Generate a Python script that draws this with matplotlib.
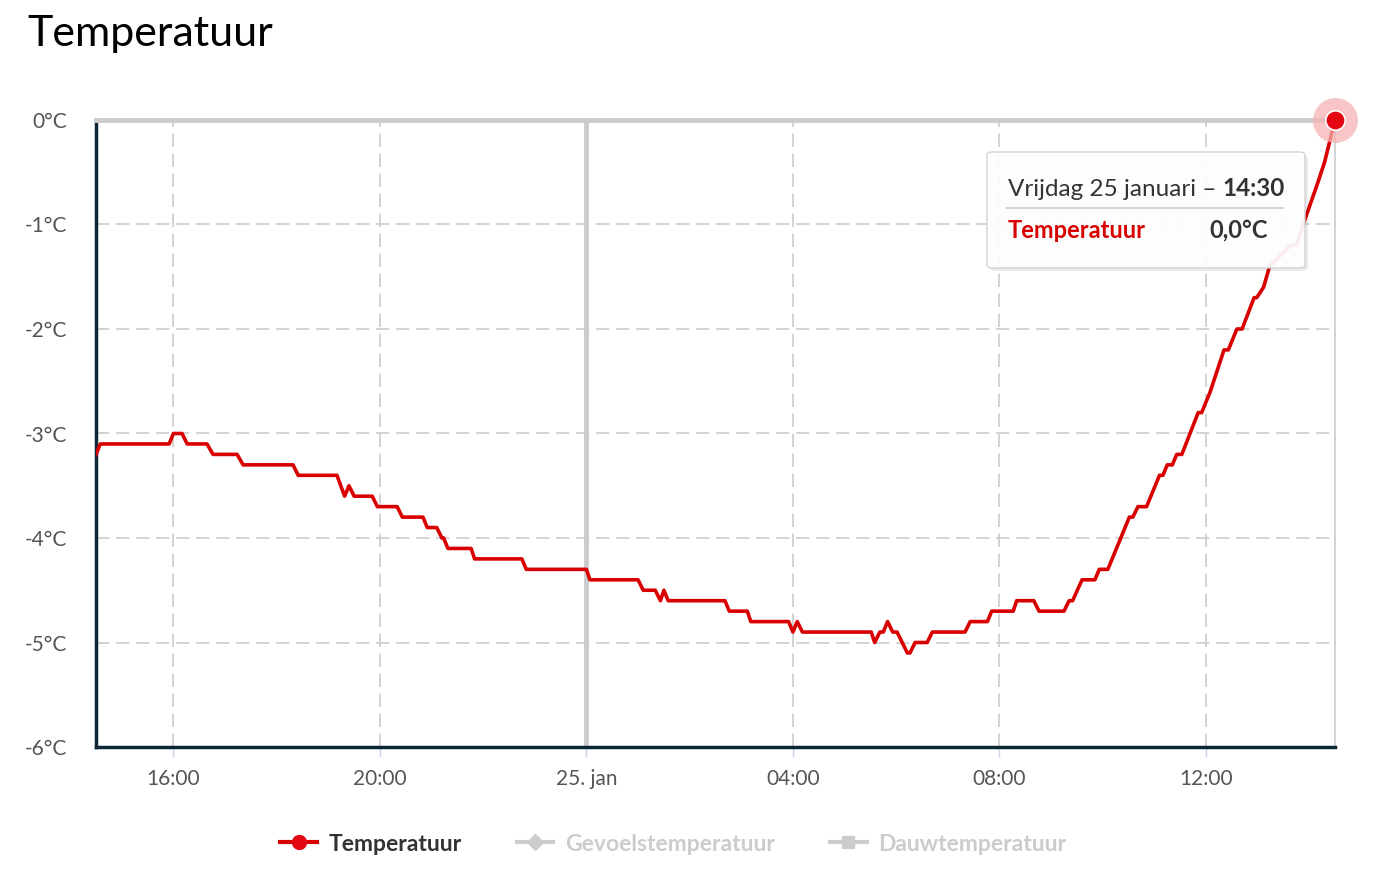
import matplotlib.pyplot as plt
from matplotlib.lines import Line2D
from matplotlib.patches import FancyBboxPatch
import numpy as np

plt.rcParams["font.family"] = ["Lato", "DejaVu Sans"]

# minutes after 24 jan 14:30 and temperature (degC)
minutes = [0, 5, 85, 90, 100, 106, 129, 136, 164, 171, 229, 235, 280, 289, 294,
           300, 321, 327, 350, 356, 380, 385, 396, 402, 404, 409, 436, 440, 495,
           500, 570, 574, 630, 636, 650, 656, 660, 665, 731, 736, 757, 761, 805,
           810, 815, 821, 901, 905, 911, 915, 920, 926, 931, 943, 946, 952, 966,
           972, 1010, 1016, 1036, 1041, 1066, 1070, 1090, 1096, 1125, 1131, 1135,
           1146, 1161, 1166, 1176, 1201, 1205, 1211, 1221, 1236, 1240, 1245, 1251,
           1256, 1262, 1281, 1285, 1295, 1303, 1311, 1316, 1326, 1332, 1346, 1349,
           1357, 1364, 1388, 1395, 1403, 1420, 1428, 1440]
temps = [-3.2, -3.1, -3.1, -3.0, -3.0, -3.1, -3.1, -3.2, -3.2, -3.3, -3.3, -3.4,
         -3.4, -3.6, -3.5, -3.6, -3.6, -3.7, -3.7, -3.8, -3.8, -3.9, -3.9, -4.0,
         -4.0, -4.1, -4.1, -4.2, -4.2, -4.3, -4.3, -4.4, -4.4, -4.5, -4.5, -4.6,
         -4.5, -4.6, -4.6, -4.7, -4.7, -4.8, -4.8, -4.9, -4.8, -4.9, -4.9, -5.0,
         -4.9, -4.9, -4.8, -4.9, -4.9, -5.1, -5.1, -5.0, -5.0, -4.9, -4.9, -4.8,
         -4.8, -4.7, -4.7, -4.6, -4.6, -4.7, -4.7, -4.6, -4.6, -4.4, -4.4, -4.3,
         -4.3, -3.8, -3.8, -3.7, -3.7, -3.4, -3.4, -3.3, -3.3, -3.2, -3.2, -2.8,
         -2.8, -2.6, -2.4, -2.2, -2.2, -2.0, -2.0, -1.7, -1.7, -1.6, -1.4, -1.2,
         -1.2, -1.0, -0.6, -0.4, 0.0]

start_hour = 14.5
x_ticks = [16, 20, 24, 28, 32, 36]
x_labels = ["16:00", "20:00", "25. jan", "04:00", "08:00", "12:00"]
y_ticks = [0, -1, -2, -3, -4, -5, -6]
y_labels = ["0°C", "-1°C", "-2°C", "-3°C", "-4°C", "-5°C", "-6°C"]
legend_names = ["Temperatuur", "Gevoelstemperatuur", "Dauwtemperatuur"]
tooltip_day = "Vrijdag 25 januari \u2013 "
tooltip_time = "14:30"
tooltip_value = "0,0°C"

red = "#d90000"
dark = "#0e2736"
grid_col = "#cccccc"

hours = start_hour + np.array(minutes) / 60.0

W, H = 1374, 872
fig = plt.figure(figsize=(W / 100, H / 100), dpi=100)
ax = fig.add_axes([96 / W, 1 - 747 / H, (1335 - 96) / W, (747 - 120) / H])


def fx(px):
    return px / W


def fy(py):
    return 1 - py / H


ax.plot(hours, temps, color=red, lw=2.6, solid_joinstyle="round", zorder=3)

# highlighted last point
ax.scatter([hours[-1]], [temps[-1]], s=1050, color="#f6b3b3", alpha=0.75,
           zorder=4, clip_on=False, linewidths=0)
ax.plot([hours[-1]], [temps[-1]], marker="o", markersize=14, color="#e30613",
        markeredgecolor="white", markeredgewidth=1.2, zorder=5, clip_on=False)

ax.set_xlim(start_hour, start_hour + 24)
ax.set_ylim(-6, 0)
ax.set_xticks(x_ticks)
ax.set_xticklabels(x_labels)
ax.set_yticks(y_ticks)
ax.set_yticklabels(y_labels)

ax.grid(True, color=grid_col, lw=1.2, linestyle=(0, (8, 4)))
ax.set_axisbelow(True)
ax.axvline(24, color=grid_col, lw=3.5, zorder=1)

ax.tick_params(axis="x", length=7, width=1, color="#ccd6eb", pad=9,
               labelsize=15, labelcolor="#555555")
ax.tick_params(axis="y", length=0, pad=21, labelsize=15, labelcolor="#555555")

ax.spines["left"].set_color(dark)
ax.spines["left"].set_linewidth(2.5)
ax.spines["bottom"].set_color(dark)
ax.spines["bottom"].set_linewidth(2.5)
ax.spines["top"].set_color(grid_col)
ax.spines["top"].set_linewidth(3.5)
ax.spines["right"].set_color(grid_col)
ax.spines["right"].set_linewidth(1.2)

fig.text(fx(27), fy(34), "Temperatuur", fontsize=31, color="black",
         ha="left", va="center")

# tooltip
shadow = FancyBboxPatch((fx(990), fy(271)), fx(1305) - fx(987), fy(152) - fy(268),
                        boxstyle="round,pad=0,rounding_size=0.004",
                        transform=fig.transFigure, facecolor="black", alpha=0.08,
                        edgecolor="none", zorder=6, clip_on=False)
box = FancyBboxPatch((fx(987), fy(268)), fx(1305) - fx(987), fy(152) - fy(268),
                     boxstyle="round,pad=0,rounding_size=0.004",
                     transform=fig.transFigure, facecolor="white", alpha=0.93,
                     edgecolor="#d0d0d0", lw=1, zorder=7, clip_on=False)
ax.add_patch(shadow)
ax.add_patch(box)
ax.add_line(Line2D([fx(1006), fx(1283)], [fy(208), fy(208)], color="#cccccc",
                   lw=1.2, transform=fig.transFigure, zorder=8, clip_on=False))
day_txt = fig.text(fx(1008), fy(189), tooltip_day, fontsize=17.5, color="#333333",
                   ha="left", va="center", zorder=9)
renderer = fig.canvas.get_renderer()
day_end = day_txt.get_window_extent(renderer).x1
fig.text(day_end / W, fy(189), tooltip_time, fontsize=17.5, color="#333333",
         fontweight="bold", ha="left", va="center", zorder=9)
fig.text(fx(1008), fy(230), legend_names[0], fontsize=17, color=red,
         fontweight="bold", ha="left", va="center", zorder=9)
fig.text(fx(1268), fy(230), tooltip_value, fontsize=17, color="#333333",
         fontweight="bold", ha="right", va="center", zorder=9)

handles = [
    Line2D([], [], color=red, lw=3, marker="o", markersize=10,
           markerfacecolor="#e30613", markeredgecolor="#e30613"),
    Line2D([], [], color="#cccccc", lw=3, marker="D", markersize=8),
    Line2D([], [], color="#cccccc", lw=3, marker="s", markersize=9),
]
leg = fig.legend(handles, legend_names, loc="center", ncol=3,
                 bbox_to_anchor=(0.49, fy(844)), frameon=False,
                 prop={"size": 16.5, "weight": "bold"}, handlelength=1.6,
                 handletextpad=0.5, columnspacing=2.4)
for txt, col in zip(leg.get_texts(), ["#333333", "#cccccc", "#cccccc"]):
    txt.set_color(col)

fig.savefig("out.png", dpi=100)
